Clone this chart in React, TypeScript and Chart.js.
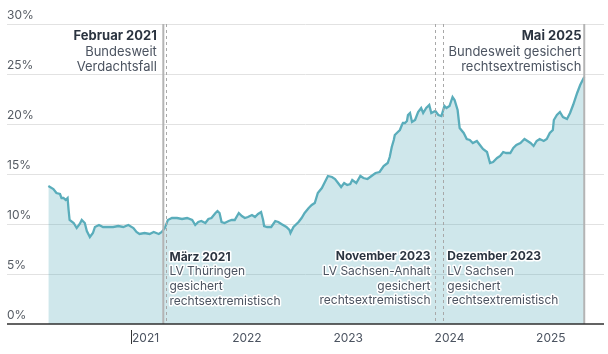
import React, { useEffect, useRef } from 'react';
import { Chart, registerables } from 'chart.js';

Chart.register(...registerables);

// ---- data (decimal years, percent) ----
const xYears = [
  2020.04, 2020.09, 2020.12, 2020.155, 2020.17, 2020.19, 2020.21, 2020.23, 2020.24, 2020.25,
  2020.29, 2020.32, 2020.35, 2020.37, 2020.40, 2020.42, 2020.45, 2020.48, 2020.50, 2020.54,
  2020.58, 2020.63, 2020.68, 2020.73, 2020.78, 2020.83, 2020.88, 2020.91, 2020.94, 2020.99,
  2021.04, 2021.08, 2021.13, 2021.16, 2021.19, 2021.22, 2021.26, 2021.31, 2021.36, 2021.41,
  2021.46, 2021.49, 2021.52, 2021.55, 2021.59, 2021.62, 2021.65, 2021.69, 2021.71, 2021.73,
  2021.75, 2021.78, 2021.82, 2021.85, 2021.88, 2021.92, 2021.95, 2021.98, 2022.01, 2022.05,
  2022.08, 2022.11, 2022.14, 2022.16, 2022.17, 2022.20, 2022.24, 2022.28, 2022.31, 2022.34,
  2022.39, 2022.42, 2022.43, 2022.46, 2022.51, 2022.54, 2022.57, 2022.61, 2022.64, 2022.67,
  2022.70, 2022.74, 2022.77, 2022.80, 2022.84, 2022.87, 2022.90, 2022.93, 2022.96, 2022.99,
  2023.02, 2023.04, 2023.08, 2023.12, 2023.15, 2023.19, 2023.23, 2023.27, 2023.31, 2023.35,
  2023.39, 2023.41, 2023.43, 2023.45, 2023.46, 2023.48, 2023.49, 2023.51, 2023.53, 2023.54,
  2023.56, 2023.58, 2023.59, 2023.61, 2023.63, 2023.66, 2023.69, 2023.72, 2023.74, 2023.77,
  2023.80, 2023.82, 2023.86, 2023.89, 2023.92, 2023.95, 2023.97, 2024.00, 2024.03, 2024.05,
  2024.08, 2024.10, 2024.14, 2024.17, 2024.20, 2024.23, 2024.27, 2024.30, 2024.33, 2024.37,
  2024.40, 2024.43, 2024.47, 2024.50, 2024.53, 2024.56, 2024.60, 2024.63, 2024.66, 2024.70,
  2024.74, 2024.77, 2024.80, 2024.83, 2024.86, 2024.89, 2024.93, 2024.96, 2024.99, 2025.02,
  2025.03, 2025.06, 2025.09, 2025.12, 2025.16, 2025.19, 2025.22, 2025.26, 2025.29, 2025.33,
];
const pollValues = [
  13.8, 13.5, 13.1, 13.0, 12.6, 12.6, 12.4, 12.6, 11.4, 10.4,
  10.1, 9.6, 10.0, 10.4, 10.1, 9.3, 8.7, 9.1, 9.7, 9.9,
  9.7, 9.7, 9.7, 9.8, 9.7, 9.9, 9.6, 9.2, 9.0, 9.1,
  9.0, 9.2, 9.0, 9.2, 9.6, 10.4, 10.6, 10.6, 10.5, 10.6,
  10.4, 9.9, 10.2, 10.3, 10.1, 10.5, 10.6, 11.1, 11.3, 11.1,
  10.2, 10.1, 10.3, 10.4, 10.4, 11.1, 10.8, 10.6, 10.7, 10.9,
  10.7, 11.0, 11.2, 10.4, 9.8, 9.7, 9.7, 10.3, 10.2, 10.0,
  9.7, 9.4, 9.1, 9.7, 10.2, 10.6, 11.1, 11.6, 11.9, 12.1,
  13.1, 13.6, 14.2, 14.8, 14.7, 14.5, 14.1, 13.7, 14.1, 13.9,
  14.0, 14.4, 14.1, 14.8, 14.6, 14.5, 14.8, 15.1, 15.2, 15.8,
  16.1, 16.7, 17.7, 18.4, 18.9, 19.1, 19.2, 19.4, 19.9, 20.1,
  20.1, 20.3, 20.9, 21.1, 20.2, 20.4, 21.2, 21.6, 21.1, 21.6,
  21.9, 21.1, 21.3, 20.9, 20.8, 21.8, 21.6, 21.8, 22.7, 22.4,
  21.4, 19.6, 19.1, 18.5, 18.4, 18.1, 18.3, 17.9, 17.5, 17.2,
  16.1, 16.2, 16.6, 16.8, 17.2, 17.1, 17.1, 17.6, 17.9, 18.1,
  18.5, 18.3, 18.1, 17.8, 18.3, 18.5, 18.3, 18.5, 19.1, 19.4,
  20.4, 20.9, 21.2, 20.7, 20.5, 21.1, 21.9, 23.1, 23.9, 24.7,
];

const xTickYears = [2021, 2022, 2023, 2024, 2025];
const xTickLabels = ['2021', '2022', '2023', '2024', '2025'];
const yTickValues = [0, 5, 10, 15, 20, 25, 30];
const yTickLabels = ['0%', '5%', '10%', '15%', '20%', '25%', '30%'];

const eventYears = [2021.175, 2021.198, 2023.854, 2023.933, 2025.33];
const eventTitles = ['Februar 2021', 'März 2021', 'November 2023', 'Dezember 2023', 'Mai 2025'];
const eventTexts = [
  ['Bundesweit', 'Verdachtsfall'],
  ['LV Thüringen', 'gesichert', 'rechtsextremistisch'],
  ['LV Sachsen-Anhalt', 'gesichert', 'rechtsextremistisch'],
  ['LV Sachsen', 'gesichert', 'rechtsextremistisch'],
  ['Bundesweit gesichert', 'rechtsextremistisch'],
];

// ---- styles ----
const FONT = 'Inter, "Noto Sans", sans-serif';
const eventStyle = [
  { solid: true, side: 'left', gap: 6.5, top: 36, lh: 15.6, size: 13 },
  { solid: false, side: 'right', gap: 3.8, top: 257, lh: 14.7, size: 12 },
  { solid: false, side: 'left', gap: 4.2, top: 256.5, lh: 14.7, size: 12 },
  { solid: false, side: 'right', gap: 4.6, top: 256.5, lh: 14.7, size: 12 },
  { solid: true, side: 'left', gap: 2.8, top: 36, lh: 15.6, size: 13 },
];

const decorPlugin = {
  id: 'decor',
  beforeDatasetsDraw(chart: any) {
    const { ctx, chartArea } = chart;
    const y = chart.scales.y;
    ctx.save();
    ctx.strokeStyle = '#e2e2e2';
    ctx.lineWidth = 1;
    yTickValues.forEach((v) => {
      if (v === 0) return;
      const py = Math.round(y.getPixelForValue(v)) + 0.5;
      ctx.beginPath();
      ctx.moveTo(chartArea.left, py);
      ctx.lineTo(chartArea.right, py);
      ctx.stroke();
    });
    ctx.restore();
  },
  afterDatasetsDraw(chart: any) {
    const { ctx, chartArea } = chart;
    const x = chart.scales.x;
    const y = chart.scales.y;
    ctx.save();

    // event lines
    eventYears.forEach((ev, i) => {
      const st = eventStyle[i];
      const px = x.getPixelForValue(ev);
      ctx.beginPath();
      if (st.solid) {
        ctx.setLineDash([]);
        ctx.strokeStyle = '#b4b4b4';
        ctx.lineWidth = 2;
      } else {
        ctx.setLineDash([3, 3]);
        ctx.strokeStyle = '#a8a8a8';
        ctx.lineWidth = 1;
      }
      const pxr = st.solid ? px : Math.round(px) + 0.5;
      ctx.moveTo(pxr, chartArea.top);
      ctx.lineTo(pxr, chartArea.bottom);
      ctx.stroke();
    });
    ctx.setLineDash([]);

    // baseline
    const by = y.getPixelForValue(0);
    ctx.strokeStyle = '#2f2f2f';
    ctx.lineWidth = 1.5;
    ctx.beginPath();
    ctx.moveTo(chartArea.left, by);
    ctx.lineTo(chartArea.right, by);
    ctx.stroke();

    // event labels with white halo
    ctx.textBaseline = 'middle';
    ctx.lineJoin = 'round';
    eventYears.forEach((ev, i) => {
      const st = eventStyle[i];
      const px = x.getPixelForValue(ev);
      const tx = st.side === 'left' ? px - st.gap : px + st.gap;
      ctx.textAlign = st.side === 'left' ? 'right' : 'left';
      const lines = [eventTitles[i], ...eventTexts[i]];
      lines.forEach((t, j) => {
        const ty = st.top + j * st.lh;
        ctx.font = j === 0 ? `bold ${st.size}px ${FONT}` : `${st.size}px ${FONT}`;
        ctx.strokeStyle = '#ffffff';
        ctx.lineWidth = 3;
        ctx.strokeText(t, tx, ty);
        ctx.fillStyle = j === 0 ? '#2b3440' : '#4b5360';
        ctx.fillText(t, tx, ty);
      });
    });

    // y labels
    ctx.font = `12px ${FONT}`;
    ctx.fillStyle = '#555b63';
    ctx.textAlign = 'left';
    yTickValues.forEach((v, i) => {
      ctx.fillText(yTickLabels[i], chartArea.left, y.getPixelForValue(v) - 8.5);
    });

    // x labels
    ctx.font = `12px ${FONT}`;
    ctx.fillStyle = '#4b5360';
    ctx.textAlign = 'center';
    xTickYears.forEach((v, i) => {
      ctx.fillText(xTickLabels[i], x.getPixelForValue(v), by + 14);
    });

    // small marker before first year label
    const w0 = ctx.measureText(xTickLabels[0]).width;
    const mx = Math.round(x.getPixelForValue(xTickYears[0]) - w0 / 2 - 1) + 0.5;
    ctx.strokeStyle = '#333';
    ctx.lineWidth = 1;
    ctx.beginPath();
    ctx.moveTo(mx, by + 6);
    ctx.lineTo(mx, by + 20);
    ctx.stroke();

    ctx.restore();
  },
};

export default function App() {
  const ref = useRef<HTMLCanvasElement | null>(null);

  useEffect(() => {
    document.body.style.margin = '0';
    const canvas = ref.current;
    if (!canvas) return;
    const chart = new Chart(canvas, {
      type: 'line',
      data: {
        datasets: [
          {
            data: xYears.map((xv, i) => ({ x: xv, y: pollValues[i] })),
            borderColor: '#5aadbb',
            borderWidth: 2.3,
            backgroundColor: 'rgba(91,173,187,0.29)',
            fill: 'origin',
            pointRadius: 0,
            tension: 0,
          },
        ],
      },
      options: {
        animation: false,
        responsive: false,
        devicePixelRatio: 1,
        layout: { padding: { left: 7, right: 4, top: 24, bottom: 30 } },
        plugins: { legend: { display: false }, tooltip: { enabled: false } },
        scales: {
          x: { type: 'linear', display: false, min: 2019.632, max: 2025.525 },
          y: { type: 'linear', display: false, min: 0, max: 30 },
        },
      },
      plugins: [decorPlugin],
    });
    return () => chart.destroy();
  }, []);

  return (
    <div style={{ width: 608, height: 354 }}>
      <canvas ref={ref} width={608} height={354} style={{ display: 'block' }} />
    </div>
  );
}
